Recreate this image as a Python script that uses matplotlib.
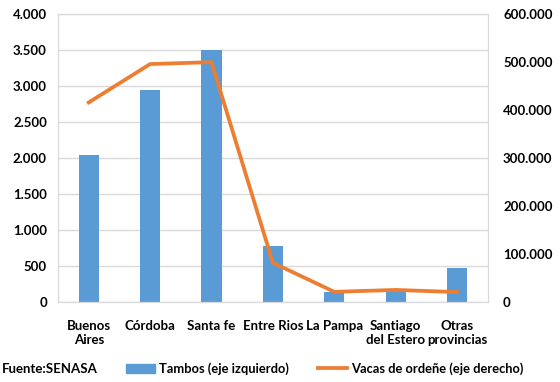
import matplotlib
matplotlib.use("Agg")
import matplotlib.pyplot as plt
from matplotlib.ticker import FuncFormatter
from matplotlib.patches import Patch
from matplotlib.lines import Line2D

provincias = ["Buenos\nAires", "Córdoba", "Santa fe", "Entre Rios", "La Pampa",
              "Santiago\ndel Estero", "Otras\nprovincias"]
tambos = [2040, 2950, 3500, 780, 140, 180, 470]
vacas = [416000, 496000, 500000, 82000, 21500, 25500, 21000]

plt.rcParams["font.family"] = ["Lato", "DejaVu Sans"]
plt.rcParams["font.weight"] = "bold"

BLUE = "#5B9BD5"
ORANGE = "#ED7D31"
GRID = "#D9D9D9"


def miles(v, _pos):
    return f"{int(v):,}".replace(",", ".")


fig = plt.figure(figsize=(5.6, 3.82), dpi=100)
ax = fig.add_axes([0.1036, 0.209, 0.7674, 0.754])
x = range(len(provincias))
ax.bar(x, tambos, width=0.33, color=BLUE, zorder=2)
ax.set_ylim(0, 4000)
ax.set_xlim(-0.5, len(provincias) - 0.5)
ax.set_yticks(range(0, 4001, 500))
ax.yaxis.set_major_formatter(FuncFormatter(miles))
ax.grid(axis="y", color=GRID, linewidth=1, zorder=0)
ax.set_xticks(list(x))
ax.set_xticklabels(provincias, fontsize=9.5, fontweight="bold")
ax.tick_params(axis="y", length=0, labelsize=9.5, pad=8)
ax.tick_params(axis="x", length=0, labelsize=9.5, pad=13)
for s in ax.spines.values():
    s.set_color(GRID)

ax2 = ax.twinx()
ax2.plot(x, vacas, color=ORANGE, linewidth=2.7, zorder=3)
ax2.set_ylim(0, 600000)
ax2.set_yticks(range(0, 600001, 100000))
ax2.yaxis.set_major_formatter(FuncFormatter(miles))
ax2.tick_params(length=0, labelsize=9.5, pad=11)
for s in ax2.spines.values():
    s.set_color(GRID)

fig.text(0.004, 0.035, "Fuente:SENASA", fontsize=9.5, fontweight="bold", va="center")
handles = [Patch(color=BLUE), Line2D([0], [0], color=ORANGE, linewidth=2.7)]
fig.legend(handles, ["Tambos (eje izquierdo)", "Vacas de ordeñe (eje derecho)"],
           loc="center left", bbox_to_anchor=(0.205, 0.035), ncol=2, frameon=False,
           fontsize=9.3, handlelength=2.2, handletextpad=0.3, columnspacing=2.3)

fig.savefig("out.png", dpi=100, facecolor="white")
